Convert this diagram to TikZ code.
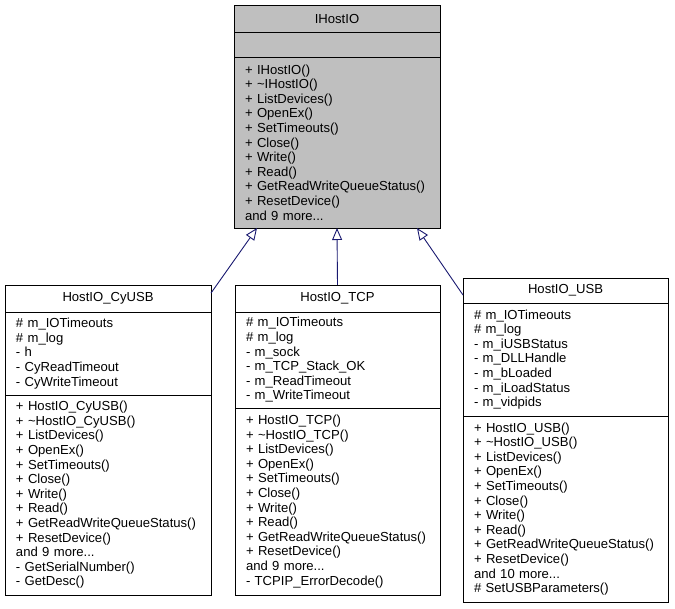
\documentclass[tikz,border=0pt]{standalone}
\usepackage{fontspec}
\setmainfont{Liberation Sans}
\usetikzlibrary{positioning,arrows.meta,calc}
\definecolor{edgeblue}{HTML}{191970}
\definecolor{basegray}{HTML}{BFBFBF}
\newcommand{\umlfont}{\fontsize{13.1}{14.6}\selectfont}

\begin{document}
\begin{tikzpicture}[x=1pt, y=-1pt,
    every node/.style={font=\umlfont, outer sep=0pt},
    classname/.style={draw, line width=0.9pt, minimum height=27pt, inner sep=0pt},
    members/.style={draw, line width=0.9pt, align=left, inner xsep=11pt, inner ysep=0pt},
    inherits/.style={draw=edgeblue, line width=0.9pt, -{Triangle[open, length=12pt, width=10pt]}}]
    \useasboundingbox (0,0) rectangle (675,609);

    % Base class
    \node[classname, fill=basegray, minimum width=206pt, anchor=north west] (ihostio) at (234,5) {IHostIO};
    \node[members, fill=basegray, text width=184pt, minimum height=25pt, below=0pt of ihostio] (ihostioAttr) {};
    \node[members, fill=basegray, text width=184pt, minimum height=171pt, below=0pt of ihostioAttr] (ihostioOps)
        {+ IHostIO()\\ + \textasciitilde IHostIO()\\ + ListDevices()\\ + OpenEx()\\ + SetTimeouts()\\
         + Close()\\ + Write()\\ + Read()\\ + GetReadWriteQueueStatus()\\ + ResetDevice()\\ and 9 more...};

    % Left - CyUSB
    \node[classname, minimum width=206pt, anchor=north west] (cyusb) at (5,285) {HostIO\_CyUSB};
    \node[members, text width=184pt, minimum height=83pt, below=0pt of cyusb] (cyusbAttr)
        {\# m\_IOTimeouts\\ \# m\_log\\ - h\\ - CyReadTimeout\\ - CyWriteTimeout};
    \node[members, text width=184pt, minimum height=200pt, below=0pt of cyusbAttr] (cyusbOps)
        {+ HostIO\_CyUSB()\\ + \textasciitilde HostIO\_CyUSB()\\ + ListDevices()\\ + OpenEx()\\ + SetTimeouts()\\
         + Close()\\ + Write()\\ + Read()\\ + GetReadWriteQueueStatus()\\ + ResetDevice()\\ and 9 more...\\
         - GetSerialNumber()\\ - GetDesc()};

    % Middle - TCP
    \node[classname, minimum width=205pt, anchor=north west] (tcp) at (235,285) {HostIO\_TCP};
    \node[members, text width=183pt, minimum height=96pt, below=0pt of tcp] (tcpAttr)
        {\# m\_IOTimeouts\\ \# m\_log\\ - m\_sock\\ - m\_TCP\_Stack\_OK\\ - m\_ReadTimeout\\ - m\_WriteTimeout};
    \node[members, text width=183pt, minimum height=187pt, below=0pt of tcpAttr] (tcpOps)
        {+ HostIO\_TCP()\\ + \textasciitilde HostIO\_TCP()\\ + ListDevices()\\ + OpenEx()\\ + SetTimeouts()\\
         + Close()\\ + Write()\\ + Read()\\ + GetReadWriteQueueStatus()\\ + ResetDevice()\\ and 9 more...\\
         - TCPIP\_ErrorDecode()};

    % Right - USB
    \node[classname, minimum width=205pt, minimum height=25pt, anchor=north west] (usb) at (463,278) {HostIO\_USB};
    \node[members, text width=183pt, minimum height=113pt, below=0pt of usb] (usbAttr)
        {\# m\_IOTimeouts\\ \# m\_log\\ - m\_iUSBStatus\\ - m\_DLLHandle\\ - m\_bLoaded\\ - m\_iLoadStatus\\ - m\_vidpids};
    \node[members, text width=183pt, minimum height=186pt, below=0pt of usbAttr] (usbOps)
        {+ HostIO\_USB()\\ + \textasciitilde HostIO\_USB()\\ + ListDevices()\\ + OpenEx()\\ + SetTimeouts()\\
         + Close()\\ + Write()\\ + Read()\\ + GetReadWriteQueueStatus()\\ + ResetDevice()\\ and 10 more...\\
         \# SetUSBParameters()};

    % Inheritance
    \draw[inherits] ($(cyusb.north east)!0.3!(cyusb.south east)$) -- ($(ihostioOps.south)+(-80,0)$);
    \draw[inherits] (tcp.north) -- (ihostioOps.south);
    \draw[inherits] ($(usb.north west)!0.68!(usb.south west)$) -- ($(ihostioOps.south)+(80,0)$);
\end{tikzpicture}
\end{document}
